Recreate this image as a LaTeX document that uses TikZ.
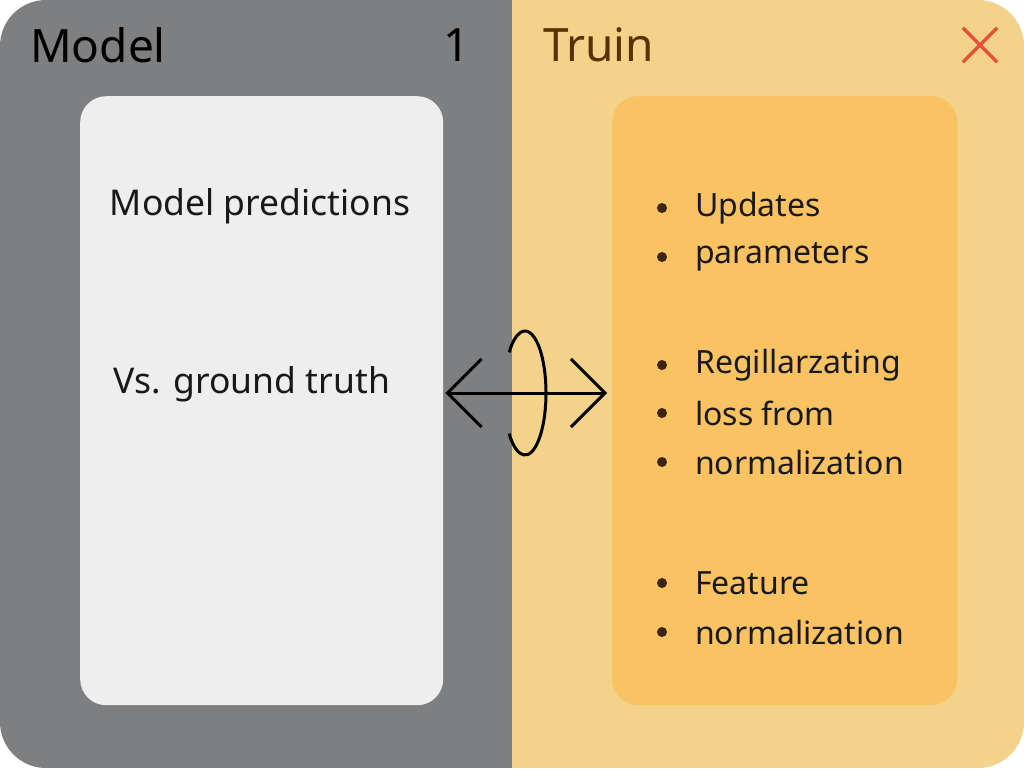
\documentclass[tikz,border=0pt]{standalone}
\usepackage{fontspec}
\setmainfont{Noto Sans}
\definecolor{pgray}{HTML}{7E7F81}
\definecolor{pbeige}{HTML}{F2D389}
\definecolor{cardgray}{HTML}{EEEEEE}
\definecolor{cardorange}{HTML}{F9C263}
\definecolor{tbrown}{HTML}{5A3100}
\definecolor{dotbrown}{HTML}{3C2410}
\definecolor{xred}{HTML}{E8503A}
\usetikzlibrary{arrows.meta,positioning,calc}
\tikzset{
  card/.style={rounded corners=26pt,anchor=north west,inner sep=0pt},
  ttl/.style={font=\fontsize{46}{50}\selectfont,anchor=west,inner sep=0pt},
  body/.style={font=\fontsize{32}{36}\selectfont,text=black!90,inner sep=0pt},
  bigbody/.style={body,font=\fontsize{35.5}{40}\selectfont},
  bul/.style={body,anchor=west},
  dot/.style={circle,fill=dotbrown,inner sep=0pt,minimum size=10pt},
  arr/.style={{Straight Barb[length=34pt,width=68pt]}-{Straight Barb[length=34pt,width=68pt]},line width=3pt},
}
\begin{document}
\begin{tikzpicture}[x=1pt,y=-1pt]
  \useasboundingbox (0,0) rectangle (1024,768);
  \fill[white] (0,0) rectangle (1024,768);
  % Two halves
  \begin{scope}
    \clip[rounded corners=46pt] (0,0) rectangle (1024,768);
    \fill[pgray] (0,0) rectangle (512,768);
    \fill[pbeige] (512,0) rectangle (1024,768);
  \end{scope}
  % Titles
  \node[ttl] (model) at (30,45) {Model};
  \node[ttl] (one) at (443,45) {1};
  \node[ttl,text=tbrown] (truin) at (543,45) {Truin};
  \node[text=xred,inner sep=0pt,minimum size=34pt] (close) at (980,45) {};
  \draw[xred,line width=3.5pt] (close.north west) -- (close.south east) (close.north east) -- (close.south west);
  % Cards
  \node[card,fill=cardgray,minimum width=363pt,minimum height=609pt] (lcard) at (80,96) {};
  \node[card,fill=cardorange,minimum width=345pt,minimum height=609pt] (rcard) at (612,96) {};
  \node[bigbody] (pred) at (260,206) {Model predictions};
  \node[bigbody] (truth) at (252,384) {Vs. ground truth};
  \foreach \i/\y/\t in {1/208/Updates, 2/257/parameters, 3/365/Regillarzating, 4/413/loss from,
                        5/462/normalization, 6/583/Feature, 7/632/normalization}{
    \node[bul] (b\i) at (695,\y) {\t};
    \node[dot] at (662,\y) {};
  }
  % Connector with ring
  \coordinate (ring) at (525,393);
  \draw[arr] (lcard.east |- ring) ++(2,0) coordinate (la) -- ($(rcard.west |- ring)+(-5,0)$);
  \draw[line width=3pt] ($(ring)+({21*cos(139)},{62*sin(139)})$) arc[start angle=139,end angle=-139,x radius=21,y radius=62];
\end{tikzpicture}
\end{document}
